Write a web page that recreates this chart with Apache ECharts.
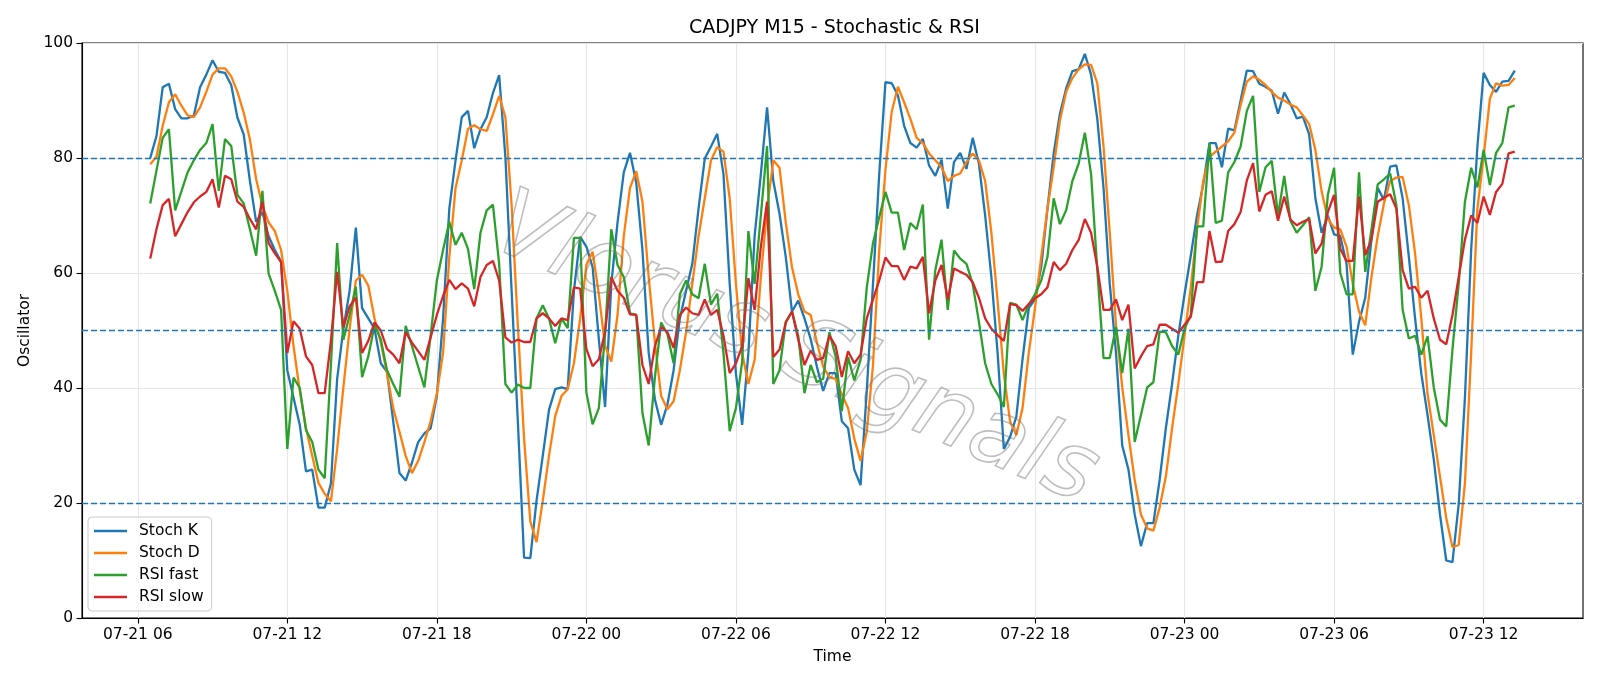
<!DOCTYPE html>
<html>
<head>
<meta charset="utf-8">
<title>CADJPY M15 - Stochastic & RSI</title>
<script src="https://cdn.jsdelivr.net/npm/echarts@6/dist/echarts.min.js"></script>
<style>
html,body{margin:0;padding:0;background:#fff;}
#chart{width:1600px;height:686px;}
</style>
</head>
<body>
<div id="chart"></div>
<script>
// 15 minute bars, hours counted from 07-21 00:00
var startHour = 6.5;
var stepHour = 0.25;

var stochK = [80,83.8,92.3,92.9,88.5,86.9,86.9,87.4,92.3,94.5,97,95,94.8,92.7,87,84.1,76,68.9,70.6,66.4,
  64,62,43.1,38.3,33.6,25.5,25.8,19.2,19.2,23.4,41.6,50.3,56.9,67.9,53.9,52.1,50.3,44.3,42.8,34.2,
  25.2,23.9,27,30.6,32.1,33,38.6,52.1,71.2,79.6,87.1,88.2,81.7,85,87.1,91.3,94.4,80.2,56.9,34.2,
  10.5,10.4,20.4,28.2,36.2,39.8,40.1,39.8,56.9,66.3,64.6,61,48.5,36.7,58.1,68.8,77.5,80.9,75.7,64,
  46.1,38,33.6,37.1,43.1,52.1,56.9,61.6,71.2,79.9,82,84.2,77.2,58.1,42.5,33.6,46.1,66.4,77.2,88.8,
  76,70.3,62.8,53.3,55.2,52.1,48.5,43.7,39.5,42.6,42.6,34.2,33,25.8,23.1,39.5,58.1,77.2,93.2,93,
  90.9,85.6,82.6,81.8,83.3,78.7,76.9,79.7,71.2,79.3,80.9,78.1,83.5,79,70,59.3,46.1,29.4,31.5,35,
  45,53.9,55.4,61.1,71.2,80.8,87.7,92.1,95.1,95.4,98.1,94.5,86.8,74.8,58.1,46.1,30,25.8,18,12.5,
  16.5,16.5,24,33,40.7,49.1,56.3,63,70,75.4,82.6,82.6,78.4,85.1,84.8,90,95.2,95.1,92.9,92.4,
  91.7,87.7,91.4,89.4,86.9,87.2,84.1,73,67,70,66.7,66.4,61.6,45.8,51.5,55.7,65.8,74.8,72.7,78.5,
  78.7,73,62.8,52.1,42.5,35.3,27.6,18,10,9.7,19.8,38.3,64,82,94.8,92.7,91.5,93.3,93.4,95.2];

var stochD = [78.9,80.2,85.6,89.7,91.1,89.1,87.4,87.1,88.8,91.5,94.5,95.6,95.6,94.2,91.5,87.9,83.2,76.3,71.8,68.8,
  67.3,64,56.9,47.3,39.5,33,28.2,23.5,21.6,20.3,29.4,40.1,50.3,58.7,59.7,57.8,52.1,47.9,42.5,36.5,
  32.4,28.2,25.2,27.3,30.6,34.2,39,46.1,62.8,74.8,79.6,85.1,85.7,85,84.7,87.6,90.8,87.1,71.8,50.9,
  31.2,16.8,13.2,20.4,28.2,35.1,38.6,39.8,44.3,52.1,61.4,63.7,56.3,47.3,44.6,52.7,66.4,74.8,77.7,72.4,
  59.3,47.9,38.6,36.3,37.7,43.1,49.7,58.1,66.4,73,79.6,81.9,81.1,73,58.1,46.1,40.7,44.9,59.3,71.2,
  79.6,78.3,68.8,61,56.3,53.3,52.7,47.9,43.7,41.9,41.6,38.9,36.5,31.2,27.3,32.4,44,64,78,88,
  92.4,89.7,86.8,83.5,82.6,80.8,79.6,78.4,76,76.9,77.3,79.3,80.8,79.6,76,67,55.1,42.5,34.2,31.8,
  36.5,46.1,53.9,62.8,71.2,78.4,86.5,91.5,93.9,95.4,96.3,96.2,93,82,67,50.9,40.1,31.8,24,18,
  15.6,15.2,19.2,24.6,33,40.7,49.1,57.5,67.6,76,80.2,81.1,82,82.9,84.4,89.2,93.3,94.2,93.6,92.7,
  91.5,90.5,90,89.3,88.8,87.4,85.9,81.4,74.2,69.4,67.9,67.6,64.6,58.1,53.3,50.9,59.3,66.4,72.1,76,
  76.6,76.7,71.8,63.4,52.1,39,31.8,24.6,17.4,12.3,12.7,23.4,46.1,71.2,80.2,90.3,93,92.6,92.7,93.9];

var rsiFast = [72.1,77.8,83.5,85,70.9,74.2,77.5,79.6,81.4,82.6,85.9,74.3,83.3,82.1,73.6,72.1,67.6,63,74.3,59.9,
  56.9,53.6,29.4,41.8,40,32.7,30.6,25.8,24.3,44,65.2,48.4,52.7,57.6,41.9,45.5,50.9,48.5,43.1,40.7,
  38.5,50.8,47.3,43.7,40.1,49.1,58.7,64,68.9,64.9,67,64.2,57.2,67,70.9,71.9,61.6,40.7,39.2,40.6,
  40,40,52.1,54.4,52.1,47.8,52.1,50.4,66.1,66.1,39.2,33.7,36.5,49.4,67.6,61.4,59.3,53,52.7,35.6,
  30,41.9,51.4,49.4,44.3,56.3,58.7,56.3,55.6,61.6,54.5,56.4,46.1,32.5,36.5,44.6,67.3,58.1,70,82.1,
  40.7,43.1,51.5,53.3,49.1,39.1,44,41,41.6,49.7,45.5,36,45.4,41.3,44.9,57.5,65.2,69.7,74.1,70.5,
  70.5,64,68.7,67.6,71.9,48.4,60.5,65.8,53.6,63.9,62.5,61.6,58.1,51.5,44.3,40.7,38.9,36.7,54.8,54.5,
  51.8,54.5,56.3,58.7,62.8,73,68.5,70.9,76,79,84.4,77.2,60.5,45.2,45.2,50.6,42.6,50.3,30.6,35.3,
  40.1,41,49.8,49.7,47.3,45.8,50.3,52.7,68.1,68.1,82.6,68.7,69.1,77.5,79.3,82,88.2,90.8,74.1,78.4,
  79.5,70,76.9,69.1,67,68.3,69.7,56.9,61.1,73.6,78.3,60,56.3,56.3,77.5,60.2,67.6,75.4,76.3,77.3,
  71.8,53.6,48.6,49.1,45.8,49,40.1,34.5,33.3,46.7,58.1,72.4,78.3,74.9,81.4,75.3,80.9,82.6,88.8,89.1];

var rsiSlow = [62.5,67.6,71.8,72.9,66.4,68.5,70.6,72.3,73.3,74.1,76.3,71.4,76.9,76.3,72.4,71.5,69.4,67.6,72.4,65.2,
  63.4,61.9,46.1,51.6,50.3,45.5,44,39.1,39.1,48.2,60.2,50.6,54.2,55.7,46.1,48.2,51.4,50,46.8,45.8,
  44.3,49.7,47.9,46.4,44.9,48.8,52.7,56,58.8,57.2,58.2,57.3,54.2,59.3,61.4,62.1,58.7,48.8,47.9,48.4,
  48,48,52.1,53,52.1,50.8,52.1,51.8,57.5,57.3,46.8,43.8,45,49.8,59.3,56.9,55.7,52.8,52.7,44,
  40.7,47.3,50.6,49.7,47,52.7,54,53,52.7,55.4,52.7,53.6,49.1,42.6,44.3,47.3,59.1,53.6,64.6,72.4,
  45.4,46.7,51.4,53.3,48.5,44,46.5,44.9,45.2,49.1,47.3,41.9,46.4,44.3,45.8,52.1,55.4,58.7,62.7,61.2,
  61.2,58.8,61.1,60.8,62.8,53,58.7,61.4,55.4,60.8,60.2,59.7,58.4,55.7,52.1,50.3,49.2,48.2,54.6,54.4,
  53.4,54.6,55.6,56.3,57.5,61.9,60.5,61.6,64,65.7,69.4,67,61.1,53.6,53.6,55.4,51.8,54.5,43.4,45.5,
  47.3,47.6,51,51,50.3,49.6,51,52.4,58.4,58.4,67.3,61.9,62,67.3,68.5,70.6,76.1,79.1,70.7,73.6,
  74.2,69.1,73.3,69.3,68.3,68.9,69.4,63.4,65.1,70.6,73.6,64.2,62.1,62.1,73.3,63.1,65.8,72.4,73.1,73.7,
  71.2,60.5,57.3,57.6,55.7,56.9,52.1,48.4,47.6,52.7,59.3,65.8,70,68.7,73.3,70.1,74.1,75.5,80.8,81.1];

var levels = [20, 50, 80];
var xTicks = [6, 12, 18, 24, 30, 36, 42, 48, 54, 60];
var names = ['Stoch K', 'Stoch D', 'RSI fast', 'RSI slow'];
var colors = ['#1f77b4', '#ff7f0e', '#2ca02c', '#d62728'];

function pad(n){ return (n < 10 ? '0' : '') + n; }
function timeLabel(v){
	var day = 21 + Math.floor(v / 24);
	return '07-' + pad(day) + ' ' + pad(Math.round(v % 24));
}
function pairs(arr){
	return arr.map(function(v, i){ return [startHour + i * stepHour, v]; });
}

var font = 'DejaVu Sans';
var chart = echarts.init(document.getElementById('chart'), null, {renderer: 'canvas'});

var seriesList = [stochK, stochD, rsiFast, rsiSlow].map(function(arr, k){
	return {
		name: names[k],
		type: 'line',
		data: pairs(arr),
		symbol: 'none',
		smooth: false,
		animation: false,
		lineStyle: {width: 2.3, color: colors[k]},
		itemStyle: {color: colors[k]}
	};
});
// threshold lines
seriesList[0].markLine = {
	silent: true,
	symbol: 'none',
	label: {show: false},
	lineStyle: {color: '#1f77b4', type: [6, 3], width: 1.4},
	data: levels.map(function(l){ return {yAxis: l}; })
};

chart.setOption({
	animation: false,
	backgroundColor: '#fff',
	textStyle: {fontFamily: font},
	title: {
		text: 'CADJPY M15 - Stochastic & RSI',
		left: 684,
		top: 14,
		textStyle: {fontFamily: font, fontSize: 19, fontWeight: 'normal', color: '#000'}
	},
	grid: {left: 82, right: 17, top: 43, bottom: 68, show: true, borderColor: '#000', borderWidth: 1.1},
	legend: {
		orient: 'vertical',
		left: 88,
		top: 517,
		padding: [6, 8, 6, 6],
		itemGap: 6,
		itemWidth: 33,
		itemHeight: 2.5,
		icon: 'rect',
		backgroundColor: 'rgba(255,255,255,0.8)',
		borderColor: '#cccccc',
		borderWidth: 1,
		borderRadius: 4,
		textStyle: {fontFamily: font, fontSize: 15.5, color: '#000', padding: [0, 0, 0, 7]},
		data: names
	},
	xAxis: {
		type: 'value',
		min: 3.7625,
		max: 63.9875,
		name: 'Time',
		nameLocation: 'middle',
		nameGap: 31,
		nameTextStyle: {fontFamily: font, fontSize: 15.5, color: '#000'},
		axisLine: {lineStyle: {color: '#000', width: 1.1}},
		axisTick: {show: true, length: 5.5, customValues: xTicks, lineStyle: {color: '#000', width: 1.1}},
		axisLabel: {customValues: xTicks, formatter: timeLabel, margin: 9, fontFamily: font, fontSize: 15.5, color: '#000'},
		splitLine: {show: true, lineStyle: {color: '#e6e6e6', width: 1.1}}
	},
	yAxis: {
		type: 'value',
		min: 0,
		max: 100,
		interval: 20,
		name: 'Oscillator',
		nameLocation: 'middle',
		nameGap: 47,
		nameRotate: 90,
		nameTextStyle: {fontFamily: font, fontSize: 15.5, color: '#000'},
		axisLine: {show: true, lineStyle: {color: '#000', width: 1.1}},
		axisTick: {show: true, length: 5.5, lineStyle: {color: '#000', width: 1.1}},
		axisLabel: {margin: 9, fontFamily: font, fontSize: 15.5, color: '#000'},
		splitLine: {show: true, lineStyle: {color: '#e6e6e6', width: 1.1}}
	},
	graphic: [{
		type: 'text',
		x: 794,
		y: 352,
		rotation: -0.41,
		z: 100,
		silent: true,
		style: {
			text: 'Vlorus Signals',
			x: 0,
			y: 0,
			align: 'center',
			verticalAlign: 'middle',
			font: 'italic 92px "DejaVu Sans"',
			fill: 'rgba(0,0,0,0)',
			stroke: 'rgba(110,110,110,0.45)',
			lineWidth: 1.6
		}
	}],
	series: seriesList
});
</script>
</body>
</html>
